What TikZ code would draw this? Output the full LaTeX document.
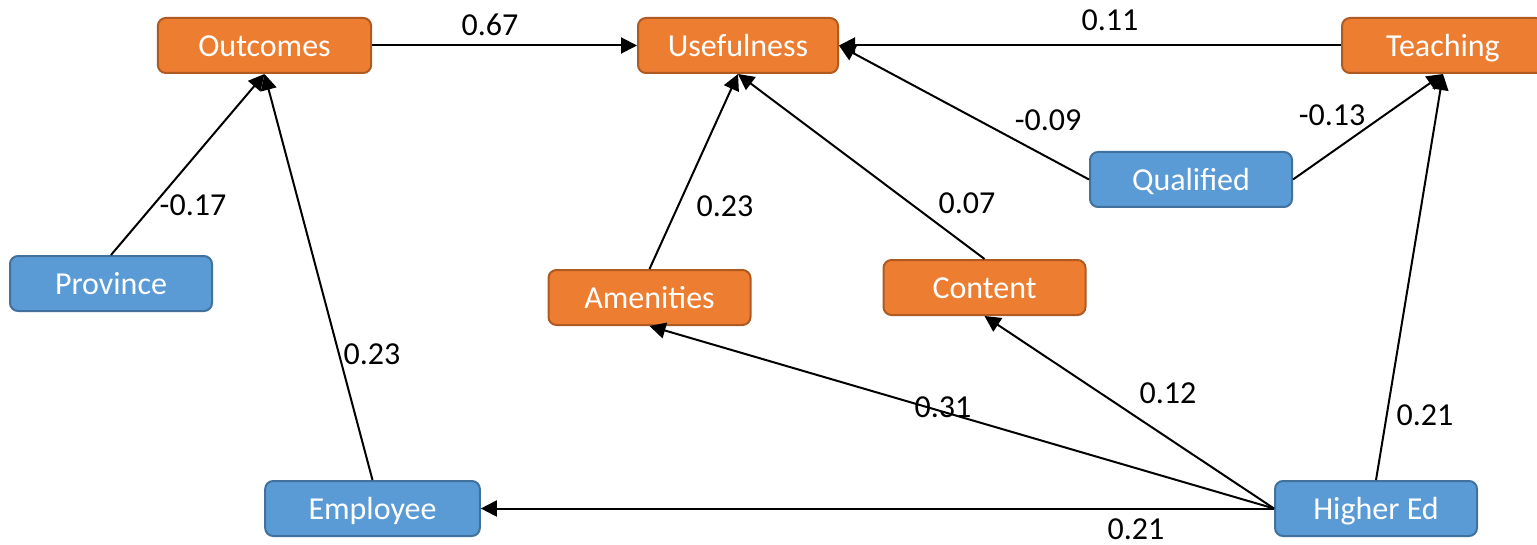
\documentclass[tikz,border=0pt]{standalone}
\usepackage{fontspec}
\setmainfont{Carlito}
\usetikzlibrary{arrows.meta}
\definecolor{orfill}{HTML}{ED7D31}
\definecolor{ordraw}{HTML}{AE5A21}
\definecolor{blfill}{HTML}{5B9BD5}
\definecolor{bldraw}{HTML}{41719C}
\tikzset{
  base/.style={rounded corners=6pt, line width=1.5pt, text=white, minimum height=41.25pt, minimum width=151.5pt, font=\fontsize{24}{28}\selectfont, inner sep=0pt, text height=20pt, text depth=4pt},
  obox/.style={base, fill=orfill, draw=ordraw},
  bbox/.style={base, fill=blfill, draw=bldraw},
  conn/.style={line width=1.5pt, -{Triangle[length=12pt,width=12pt]}},
  lab/.style={font=\fontsize{24}{28}\selectfont, inner sep=0pt}
}
\begin{document}
\begin{tikzpicture}[x=0.75pt,y=-0.75pt]
\useasboundingbox (0,0) rectangle (1537,545);
\begin{scope}
\clip (0,0) rectangle (1537,545);
\node[obox, minimum width=160pt] (out) at (264.5,45.5) {Outcomes};
\node[obox, minimum width=150pt] (use) at (738,45.5) {Usefulness};
\node[obox] (teach) at (1443,45.5) {Teaching};
\node[bbox] (prov) at (111,283.5) {Province};
\node[bbox] (qual) at (1191,179.5) {Qualified};
\node[obox] (amen) at (649.5,297.5) {Amenities};
\node[obox] (cont) at (984.5,287.5) {Content};
\node[bbox, minimum width=161pt] (emp) at (372.5,508.5) {Employee};
\node[bbox] (hed) at (1376,508.5) {Higher Ed};
\end{scope}

\draw[conn] (out.east) -- (use.west);
\draw[conn] (teach.west) -- (use.east);
\draw[conn] (prov.north) -- (out.south);
\draw[conn] (emp.north) -- (out.south);
\draw[conn] (amen.north) -- (use.south);
\draw[conn] (cont.north) -- (use.south);
\draw[conn] (qual.west) -- (use.east);
\draw[conn] (qual.east) -- (teach.south);
\draw[conn] (hed.north) -- (teach.south);
\draw[conn] (hed.west) -- (cont.south);
\draw[conn] (hed.west) -- (amen.south);
\draw[conn] (hed.west) -- (emp.east);

\node[lab] (l1) at (490,25) {0.67};
\node[lab] (l2) at (1110,20) {0.11};
\node[lab] (l3) at (193,205) {-0.17};
\node[lab] (l4) at (372,354) {0.23};
\node[lab] (l5) at (725,206) {0.23};
\node[lab] (l6) at (967,203) {0.07};
\node[lab] (l7) at (1048,120) {-0.09};
\node[lab] (l8) at (1332,115) {-0.13};
\node[lab] (l9) at (1425,415) {0.21};
\node[lab] (l10) at (1168,393) {0.12};
\node[lab] (l11) at (943,407) {0.31};
\node[lab] (l12) at (1136,529) {0.21};
\end{tikzpicture}
\end{document}
